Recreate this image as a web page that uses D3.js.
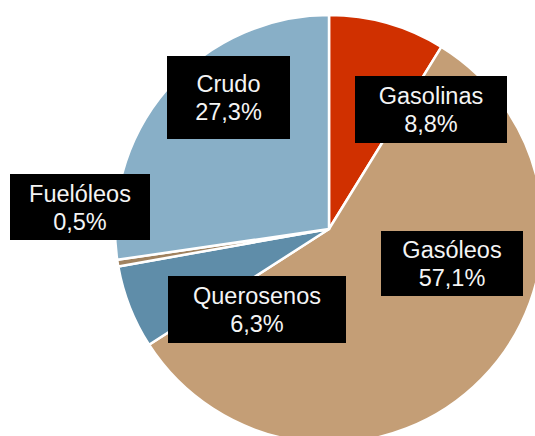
<!DOCTYPE html>
<html>
<head>
<meta charset="utf-8">
<script src="https://cdn.jsdelivr.net/npm/d3@7"></script>
<style>
  html, body { margin: 0; padding: 0; background: #fff; }
  svg { display: block; }
</style>
</head>
<body>
<svg id="chart" width="535" height="436"></svg>
<script>
// Data
const categories = ["Gasolinas", "Gasóleos", "Querosenos", "Fuelóleos", "Crudo"];
const values = [8.8, 57.1, 6.3, 0.5, 27.3];
const valueLabels = ["8,8%", "57,1%", "6,3%", "0,5%", "27,3%"];

// Styling / layout (not data)
const colors = ["#D03000", "#C49E76", "#5F8DA9", "#A0825F", "#88AFC7"];
const labelBoxes = [
  { cx: 431, cy: 109.5, w: 152, h: 67 },
  { cx: 452, cy: 263.5, w: 142, h: 65 },
  { cx: 257, cy: 309.5, w: 178, h: 67 },
  { cx: 80,  cy: 207,   w: 140, h: 66 },
  { cx: 228.5, cy: 97.5, w: 123, h: 83 }
];

const svg = d3.select("#chart");
const cx = 329, cy = 229, radius = 214;

const pie = d3.pie().sort(null).value(d => d.value).startAngle(0).endAngle(2 * Math.PI);
const data = categories.map((c, i) => ({ name: c, value: values[i], label: valueLabels[i], i }));
const arcs = pie(data);
const arc = d3.arc().innerRadius(0).outerRadius(radius);

const g = svg.append("g").attr("transform", `translate(${cx},${cy})`);
g.selectAll("path").data(arcs).enter().append("path")
  .attr("d", arc)
  .attr("fill", d => colors[d.data.i])
  .attr("stroke", "#fff")
  .attr("stroke-width", 2.5)
  .attr("stroke-linejoin", "round");

const lg = svg.append("g");
arcs.forEach(a => {
  const b = labelBoxes[a.data.i];
  lg.append("rect")
    .attr("x", b.cx - b.w / 2).attr("y", b.cy - b.h / 2)
    .attr("width", b.w).attr("height", b.h)
    .attr("fill", "#000");
  const t = lg.append("text")
    .attr("text-anchor", "middle")
    .attr("fill", "#f4f4f4")
    .attr("font-family", "'Liberation Sans', Arial, sans-serif")
    .attr("font-size", "23.5px");
  t.append("tspan").attr("x", b.cx).attr("y", b.cy - 5.5).text(a.data.name);
  t.append("tspan").attr("x", b.cx).attr("y", b.cy + 22.5).text(a.data.label);
});
</script>
</body>
</html>
